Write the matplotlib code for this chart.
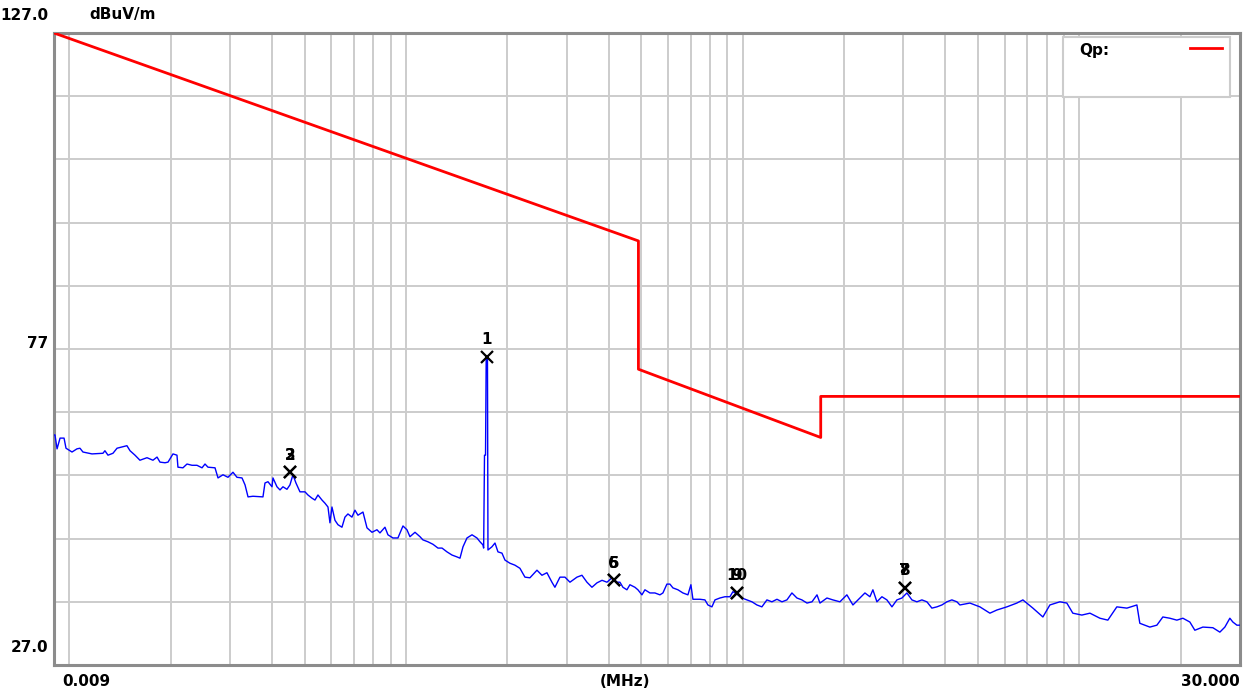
import matplotlib
matplotlib.use("Agg")
import matplotlib.pyplot as plt
import numpy as np

# ---- data ----
x_min, x_max = 0.009, 30.0
y_min, y_max = 27.0, 127.0

limit_freq = [0.009, 0.49, 0.49, 1.705, 1.705, 30.0]
limit_level = [127.0, 94.1, 73.8, 63.0, 69.5, 69.5]

trace_freq = [
    0.009, 0.00906, 0.00919, 0.00938, 0.00964, 0.00977, 0.01018, 0.01053, 0.01075, 0.01097,
    0.01167, 0.01258, 0.01275, 0.01302, 0.01347, 0.01385, 0.01433, 0.01482, 0.01514, 0.01566,
    0.0162, 0.0170, 0.01771, 0.01821, 0.01858, 0.01923, 0.01963, 0.02031, 0.02087, 0.02101,
    0.02174, 0.02235, 0.02313, 0.02393, 0.02477, 0.02528, 0.0258, 0.02707, 0.02763, 0.02859,
    0.02958, 0.03061, 0.03146, 0.03256, 0.03324, 0.03393, 0.03509, 0.03758, 0.0381, 0.03889,
    0.03997, 0.04024, 0.04136, 0.04222, 0.04309, 0.04428, 0.0452, 0.04613, 0.04709, 0.0484,
    0.05009, 0.05112, 0.05254, 0.05363, 0.05474, 0.05627, 0.05743, 0.05862, 0.05942, 0.06024,
    0.06149, 0.06276, 0.0645, 0.06584, 0.0672, 0.06907, 0.07051, 0.07196, 0.07448, 0.07655,
    0.07921, 0.08195, 0.08365, 0.08656, 0.08835, 0.09142, 0.09459, 0.09791, 0.1006, 0.1027,
    0.1063, 0.11, 0.1122, 0.1161, 0.1202, 0.1244, 0.1279, 0.1323, 0.1369, 0.1417,
    0.1446, 0.1476, 0.1517, 0.157, 0.1624, 0.1658, 0.1692, 0.1700, 0.1710, 0.1722,
    0.1730, 0.1745, 0.1751, 0.1799, 0.1837, 0.1875, 0.1927, 0.1967, 0.2035, 0.2105,
    0.2179, 0.2255, 0.2333, 0.2448, 0.2533, 0.2621, 0.2712, 0.2768, 0.2865, 0.2965,
    0.3068, 0.3218, 0.333, 0.3446, 0.3566, 0.3691, 0.382, 0.3952, 0.409, 0.4232,
    0.4318, 0.4407, 0.4529, 0.4623, 0.4784, 0.4883, 0.5019, 0.5123, 0.5301, 0.5486,
    0.5676, 0.5794, 0.5954, 0.6078, 0.6204, 0.6421, 0.6643, 0.6874, 0.7016, 0.7114,
    0.7463, 0.7723, 0.7882, 0.8101, 0.8271, 0.8555, 0.8853, 0.9162, 0.9351, 0.9675,
    0.9945, 1.029, 1.065, 1.102, 1.140, 1.180, 1.221, 1.264, 1.308, 1.353,
    1.400, 1.449, 1.499, 1.552, 1.606, 1.662, 1.696, 1.779, 1.853, 1.944,
    2.039, 2.125, 2.229, 2.307, 2.387, 2.436, 2.504, 2.591, 2.681, 2.775,
    2.871, 2.971, 3.074, 3.181, 3.291, 3.406, 3.524, 3.647, 3.774, 3.905,
    4.041, 4.181, 4.327, 4.416, 4.730, 5.064, 5.423, 5.687, 6.090, 6.521,
    6.795, 7.277, 7.792, 8.174, 8.751, 9.178, 9.562, 10.17, 10.75, 11.51,
    12.15, 12.92, 13.84, 14.82, 15.12, 16.19, 16.99, 17.70, 18.57, 19.48,
    20.30, 21.29, 22.03, 23.27, 24.92, 26.14, 27.05, 27.99, 28.57, 29.37,
    30.0,
]
trace_level = [
    63.4, 63.4, 61.2, 62.9, 62.9, 61.3, 60.7, 61.2, 61.3, 60.7,
    60.4, 60.5, 60.9, 60.2, 60.5, 61.3, 61.5, 61.7, 60.9, 60.2,
    59.4, 59.8, 59.4, 59.9, 59.1, 59.0, 59.1, 60.4, 60.2, 58.3,
    58.2, 58.8, 58.6, 58.6, 58.2, 58.8, 58.3, 58.2, 56.6, 57.1,
    56.7, 57.5, 56.7, 56.6, 55.5, 53.6, 53.7, 53.6, 55.8, 56.0,
    55.2, 56.6, 55.2, 54.7, 55.2, 54.8, 55.5, 57.1, 55.8, 54.4,
    54.4, 53.9, 53.4, 53.1, 53.9, 53.1, 52.6, 52.0, 49.5, 52.0,
    49.9, 49.2, 48.8, 50.4, 50.9, 50.4, 51.5, 50.7, 51.2, 48.7,
    48.0, 48.4, 47.9, 48.8, 47.6, 47.1, 47.1, 49.0, 48.4, 47.3,
    48.0, 47.3, 46.8, 46.5, 46.1, 45.5, 45.5, 44.9, 44.4, 44.1,
    43.9, 45.7, 47.1, 47.6, 47.1, 46.5, 46.0, 45.5, 60.2, 60.2,
    75.7, 75.7, 45.2, 45.7, 46.3, 44.9, 44.7, 43.6, 43.1, 42.8,
    42.3, 40.9, 40.8, 42.0, 41.2, 41.6, 40.1, 39.3, 40.9, 40.9,
    40.1, 40.9, 41.2, 40.1, 39.3, 40.0, 40.4, 40.1, 40.8, 40.1,
    40.1, 39.3, 38.9, 39.7, 39.3, 38.9, 38.1, 38.9, 38.4, 38.4,
    38.1, 38.4, 39.8, 39.8, 39.2, 38.9, 38.4, 38.1, 39.7, 37.4,
    37.4, 37.3, 36.5, 36.2, 37.3, 37.6, 37.8, 37.8, 38.6, 38.1,
    37.6, 37.3, 37.0, 36.5, 36.2, 37.3, 37.0, 37.4, 37.0, 37.3,
    38.4, 37.6, 37.3, 36.8, 37.0, 38.1, 36.8, 37.6, 37.3, 37.0,
    38.1, 36.5, 37.6, 38.4, 37.8, 38.9, 37.0, 37.8, 37.3, 36.2,
    37.3, 37.6, 38.4, 37.3, 37.0, 37.3, 37.0, 36.0, 36.2, 36.5,
    37.0, 37.3, 37.0, 36.5, 36.8, 36.2, 35.2, 35.7, 36.2, 36.8,
    37.3, 36.0, 34.6, 36.5, 37.0, 36.8, 35.2, 34.9, 35.2, 34.4,
    34.1, 36.2, 36.0, 36.5, 33.6, 33.0, 33.3, 34.6, 34.4, 34.1,
    34.4, 33.8, 32.5, 33.0, 32.9, 32.2, 33.0, 34.4, 33.8, 33.3,
    33.3,
]

marker_freq = [0.1738, 0.0452, 0.0452, 0.414, 0.414, 3.03, 3.03, 0.961, 0.961]
marker_level = [75.7, 57.5, 57.5, 40.4, 40.4, 39.2, 39.2, 38.4, 38.4]
marker_label = ["1", "2", "3", "5", "6", "7", "8", "9", "10"]

h_grid = [37, 47, 57, 67, 77, 87, 97, 107, 117]
v_grid = [m * 10.0 ** e for e in range(-2, 2) for m in range(1, 10)]
v_grid = [v for v in v_grid if x_min < v < x_max] + [20.0]

# ---- figure ----
fig = plt.figure(figsize=(12.58, 6.93), dpi=100)
ax = fig.add_axes([54 / 1258, 28 / 693, 1186 / 1258, 632 / 693])
ax.set_xscale("log")
ax.set_xlim(x_min, x_max)
ax.set_ylim(y_min, y_max)

grid_col = "#cccccc"
for g in h_grid:
    ax.axhline(g, color=grid_col, lw=1.4, zorder=1)
for g in v_grid:
    ax.axvline(g, color=grid_col, lw=1.4, zorder=1)

ax.plot(trace_freq, trace_level, color="#0000ff", lw=1.0, zorder=3)
ax.plot(limit_freq, limit_level, color="#ff0000", lw=2.0, zorder=4)

ax.plot(marker_freq, marker_level, linestyle="none", marker="x", color="black",
        markersize=9, mew=1.6, zorder=5)
for f, l, t in zip(marker_freq, marker_level, marker_label):
    ax.annotate(t, (f, l), xytext=(0, 7), textcoords="offset points",
                ha="center", va="bottom", fontsize=11, fontweight="bold",
                color="black", zorder=6)

ax.set_xticks([])
ax.set_yticks([])
ax.minorticks_off()
for s in ax.spines.values():
    s.set_color("#8c8c8c")
    s.set_linewidth(2.2)

# legend box
from matplotlib.patches import Rectangle
fig.patches.append(Rectangle((1063 / 1258, 1 - 97 / 693), 167 / 1258, 60 / 693,
                             transform=fig.transFigure, facecolor="white",
                             edgecolor="#cccccc", lw=1.5, zorder=10))
fig.text(1079 / 1258, 1 - 50 / 693, "Qp:", fontsize=11, fontweight="bold",
         va="center", ha="left", zorder=11)
fig.lines.append(plt.Line2D([1190 / 1258, 1222 / 1258], [1 - 48 / 693, 1 - 48 / 693],
                            transform=fig.transFigure, color="#ff0000", lw=2.0, zorder=11))

# axis texts
tk = dict(fontsize=11, fontweight="bold", color="black")
fig.text(48 / 1258, 1 - 15 / 693, "127.0", ha="right", va="center", **tk)
fig.text(89 / 1258, 1 - 15 / 693, "dBuV/m", ha="left", va="center", **tk)
fig.text(48 / 1258, 1 - 343 / 693, "77", ha="right", va="center", **tk)
fig.text(48 / 1258, 1 - 648 / 693, "27.0", ha="right", va="center", **tk)
fig.text(86 / 1258, 1 - 681 / 693, "0.009", ha="center", va="center", **tk)
fig.text(625 / 1258, 1 - 681 / 693, "(MHz)", ha="center", va="center", **tk)
fig.text(1210 / 1258, 1 - 681 / 693, "30.000", ha="center", va="center", **tk)

fig.savefig("out.png", dpi=100, facecolor="white")
